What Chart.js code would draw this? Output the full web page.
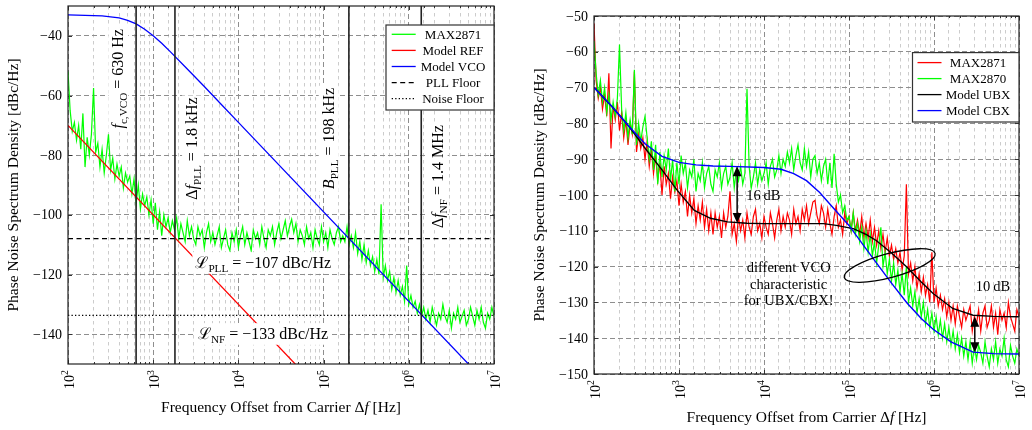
<!DOCTYPE html>
<html>
<head>
<meta charset="utf-8">
<script src="https://cdn.jsdelivr.net/npm/chart.js@4.4.1/dist/chart.umd.min.js"></script>
<style>
  html, body { margin: 0; padding: 0; background: #fff; }
  #wrap { position: relative; width: 1032px; height: 430px; overflow: hidden; }
  canvas { position: absolute; top: 0; }
</style>
</head>
<body>
<div id="wrap">
  <canvas id="left" width="516" height="430" style="left:0"></canvas>
  <canvas id="right" width="516" height="430" style="left:516px"></canvas>
</div>
<script>
/* ---------------- data ---------------- */
// measured traces are sampled 40 points per decade, 10^2 ... 10^7
const TRACE_START_EXP = 2;
const TRACE_STEP_EXP = 0.025;

const xDecades = [2, 3, 4, 5, 6, 7];
const leftYTicks = [-140, -120, -100, -80, -60, -40];
const rightYTicks = [-150, -140, -130, -120, -110, -100, -90, -80, -70, -60, -50];

const leftSeriesNames = ["MAX2871", "Model REF", "Model VCO", "PLL Floor", "Noise Floor"];
const rightSeriesNames = ["MAX2871", "MAX2870", "Model UBX", "Model CBX"];

// left panel
const leftMax2871 = [
  -52,-65,-72,-69,-75,-70,-78,-66,-84,-74,
  -80,-73,-57.5,-79,-76,-84,-78,-86,-80,-73,
  -85,-81,-88,-83,-87,-84,-91,-86,-89,-87,
  -93,-88,-96,-90,-98,-93,-97,-94,-100,-95,
  -103,-96,-105,-99,-107,-100,-104,-101,-106,-102,
  -105,-101,-108,-103,-106,-109,-102,-107,-104,-108,
  -110,-104,-107,-105,-111,-106,-103,-109,-106,-110,
  -107,-104,-111,-108,-105,-110,-112,-106,-109,-105,
  -111,-107,-104,-110,-106,-109,-112,-105,-108,-106,
  -110,-104,-108,-111,-105,-107,-104,-110,-106,-103,
  -108,-105,-102,-107,-104,-101.5,-106,-103,-109,-105,
  -107,-110,-104,-108,-106,-111,-105,-108,-110,-104,
  -109,-106,-111,-105,-108,-110,-106,-104,-109,-107,
  -109,-104,-110,-107,-111,-106,-113,-109,-115,-110,
  -116,-112,-117,-114,-119,-115,-120,-96.5,-121,-117,
  -122,-119,-125,-121,-126,-122,-127,-124,-129,-117,
  -130,-127,-131,-129,-133,-130,-134,-131,-135,-132,
  -136,-131,-134,-137,-133,-135,-130,-134,-136,-132,
  -138,-133,-135,-131,-136,-134,-132,-137,-135,-131,
  -134,-137,-132,-135,-131,-136,-138,-133,-135,-131,
  -134
];
const refExp = [2, 5];
const refVal = [-70, -160];
const vcoExp = [2, 2.4, 2.6, 2.7, 2.8, 2.9, 3.0, 3.1, 3.2, 3.4, 3.6, 3.8, 4.0, 7.0];
const vcoVal = [-33, -33.3, -34, -34.8, -36, -37.8, -40, -42.5, -45.3, -51.1, -57, -63, -69, -159];
const pllFloor = -108;
const noiseFloor = -133.7;
const markerFreqs = [630, 1800, 198000, 1400000];

// right panel
const rightMax2871 = [
  -52,-68,-73,-70,-76,-72,-78,-66,-87,-75,
  -79,-74,-82,-77,-84,-79,-86,-80,-83,-65.5,
  -88,-83,-87,-84,-90,-85,-92,-87,-94,-89,
  -96,-91,-100,-92,-97,-94,-101,-95,-99,-96,
  -103,-97,-102,-99,-106,-100,-105,-101,-108,-103,
  -107,-102,-109,-104,-110,-105,-111,-105,-109,-106,
  -112,-105,-109,-106,-99,-111,-108,-113,-106,-110,
  -107,-112,-105,-109,-111,-106,-104,-110,-108,-112,
  -106,-109,-111,-105,-108,-112,-107,-104,-110,-106,
  -109,-105,-107,-111,-104,-108,-106,-110,-104,-107,
  -103,-108,-105,-102,-101.5,-106,-108,-103,-105,-109,
  -104,-108,-111,-106,-103,-109,-107,-111,-105,-108,
  -106,-110,-105,-110,-107,-111,-106,-112,-108,-112,
  -107,-113,-109,-114,-110,-115,-111,-116,-112,-117,
  -114,-118,-115,-119,-116,-121,-117,-97,-122,-119,
  -124,-120,-126,-122,-127,-123,-128,-125,-130,-116,
  -130,-126,-131,-128,-132,-129,-134,-130,-135,-131,
  -136,-131,-134,-137,-132,-135,-133,-131,-138,-134,
  -136,-132,-138,-133,-131,-137,-135,-131,-137,-133,
  -139,-132,-135,-133,-137,-130,-134,-136,-138,-132,
  -134
];
const rightMax2870 = [
  -57,-66,-72,-68,-74,-70,-77,-72,-79,-74,
  -78,-73,-58,-76,-82,-77,-84,-79,-83,-65,
  -86,-80,-85,-81,-78,-84,-90,-85,-93,-86,
  -97,-88,-95,-89,-93,-87,-96,-90,-99,-91,
  -97,-89,-94,-91,-98,-93,-95,-90,-99,-94,
  -96,-91,-98,-94,-92,-97,-99,-93,-95,-91,
  -98,-94,-92,-97,-95,-91,-98,-93,-96,-92,
  -97,-94,-70.3,-92,-98,-95,-91,-97,-93,-96,
  -94,-91,-97,-92,-90,-95,-93,-89,-94,-90,
  -92,-88,-91,-87,-93,-89,-86,-91,-93,-87,
  -92,-88,-95,-90,-89,-94,-91,-96,-92,-90,
  -97,-91,-98,-88.5,-97,-102,-100,-105,-103,-107,
  -106,-110,-105,-111,-108,-113,-109,-115,-110,-116,
  -111,-117,-113,-119,-114,-109,-120,-116,-122,-118,
  -124,-119,-125,-121,-127,-122,-128,-120,-130,-126,
  -131,-127,-133,-129,-134,-130,-136,-132,-137,-133,
  -138,-134,-139,-135,-140,-136,-141,-137,-142,-138,
  -143,-139,-144,-140,-145,-141,-146,-141,-147,-142,
  -146,-142,-144,-147,-141,-145,-148,-143,-146,-141,
  -147,-143,-145,-140,-146,-148,-142,-145,-147,-143,
  -145
];
const ubxExp = [2.0, 2.2, 2.4, 2.59, 2.8, 2.98, 3.18, 3.37, 3.57, 3.8, 4.0, 4.7, 4.85, 5.05, 5.2, 5.32, 5.5, 5.68, 5.85, 5.99, 6.22, 6.46, 6.7, 7.0];
const ubxVal = [-70, -75, -80.5, -86.6, -93, -98.7, -104.3, -106.5, -107.5, -107.9, -108, -108, -108.5, -109.4, -111, -112.7, -116.2, -120.1, -124.3, -127.5, -131.7, -133.6, -133.9, -134];
const cbxExp = [2.0, 2.2, 2.4, 2.6, 2.8, 3.0, 3.2, 3.4, 3.6, 4.0, 4.2, 4.35, 4.5, 4.655, 4.8, 5.0, 5.16, 5.32, 5.5, 5.68, 5.85, 5.99, 6.2, 6.46, 6.7, 7.0];
const cbxVal = [-70, -75, -80.5, -85.7, -89.2, -90.9, -91.6, -91.9, -92, -92.3, -92.8, -94, -96, -99.3, -103.2, -108.5, -113.7, -118.9, -124.6, -130.1, -134.5, -137.5, -141, -143.9, -144.3, -144.4];
// double arrows marking the gaps [frequency, upper dB, lower dB]
const gapArrows = [[4830, -92, -107.8], [3.02e6, -134, -143.9]];

/* ---------------- helpers ---------------- */
const SERIF = '"Liberation Serif", "DejaVu Serif", serif';

function partFont(kind, size){
  const s = (kind === "b" || kind === "p") ? size * 0.7 : size;
  return (kind === "i" ? "italic " : "") + s.toFixed(1) + "px " + SERIF;
}
function runsWidth(ctx, parts, size){
  let w = 0;
  for(const [t, k] of parts){ ctx.font = partFont(k, size); w += ctx.measureText(t).width; }
  return w;
}
// draws text made of runs: n normal, i italic, b subscript, p superscript
function drawRuns(ctx, parts, size, x, cy, align = "center"){
  const w = runsWidth(ctx, parts, size);
  let cx = align === "center" ? x - w / 2 : (align === "right" ? x - w : x);
  const base = cy + size * 0.33;
  ctx.textAlign = "left";
  ctx.textBaseline = "alphabetic";
  for(const [t, k] of parts){
    ctx.font = partFont(k, size);
    const dy = k === "b" ? size * 0.25 : (k === "p" ? -size * 0.38 : 0);
    ctx.fillText(t, cx, base + dy);
    cx += ctx.measureText(t).width;
  }
  return w;
}
function toPts(xs, ys){ return xs.map((x, i) => ({ x, y: ys[i] })); }
function tracePts(vals){
  return vals.map((v, i) => ({ x: Math.pow(10, TRACE_START_EXP + TRACE_STEP_EXP * i), y: v }));
}
function expPts(exps, vals){ return exps.map((e, i) => ({ x: Math.pow(10, e), y: vals[i] })); }
function isDecade(v){
  if(!v) return false;
  const m = v / Math.pow(10, Math.floor(Math.log10(v) + 1e-9));
  return Math.abs(m - 1) < 1e-6;
}
function minus(v){ return v < 0 ? "\u2212" + Math.abs(v) : String(v); }

function logX(xHeight){
  return {
    type: "logarithmic", min: 1e2, max: 1e7,
    ticks: { display: false },
    grid: { drawTicks: false, lineWidth: 1,
      color: c => isDecade(c.tick && c.tick.value) ? "#8e8e8e" : "#cccccc" },
    border: { display: false, dash: c => isDecade(c.tick && c.tick.value) ? [5, 3] : [3.5, 3.5] },
    afterFit: s => { s.height = xHeight; }
  };
}
function linY(min, max, ticks, yWidth){
  return {
    type: "linear", min, max,
    afterBuildTicks: s => { s.ticks = ticks.map(v => ({ value: v })); },
    ticks: { display: false },
    grid: { drawTicks: false, lineWidth: 1, color: "#8e8e8e" },
    border: { display: false, dash: [5, 3] },
    afterFit: s => { s.width = yWidth; }
  };
}

function drawAxes(chart, yTicks){
  const { ctx, chartArea: a, scales: { x, y } } = chart;
  ctx.save();
  ctx.fillStyle = "#000";
  // x tick labels 10^n, rotated
  for(const e of xDecades){
    const px = x.getPixelForValue(Math.pow(10, e));
    ctx.save();
    ctx.translate(px + 1, a.bottom + 6);
    ctx.rotate(-Math.PI / 2);
    drawRuns(ctx, [["10", "n"], [String(e), "p"]], 14, 0, 0, "right");
    ctx.restore();
  }
  for(const v of yTicks){
    drawRuns(ctx, [[minus(v), "n"]], 14, a.left - 6, y.getPixelForValue(v), "right");
  }
  drawRuns(ctx, [["Frequency Offset from Carrier \u0394", "n"], ["f", "i"], [" [Hz]", "n"]], 15.5,
    (a.left + a.right) / 2, a.bottom + 43);
  ctx.save();
  ctx.translate(a.left - 55, (a.top + a.bottom) / 2);
  ctx.rotate(-Math.PI / 2);
  drawRuns(ctx, [["Phase Noise Spectrum Density [dBc/Hz]", "n"]], 15.5, 0, 0);
  ctx.restore();
  ctx.restore();
}

function drawTickMarks(chart, yTicks){
  const { ctx, chartArea: a, scales: { x, y } } = chart;
  ctx.save();
  ctx.strokeStyle = "#333";
  ctx.lineWidth = 1;
  ctx.beginPath();
  for(const t of x.ticks){
    const px = Math.round(x.getPixelForValue(t.value)) + 0.5;
    const len = isDecade(t.value) ? 4 : 2;
    ctx.moveTo(px, a.bottom); ctx.lineTo(px, a.bottom - len);
    ctx.moveTo(px, a.top); ctx.lineTo(px, a.top + len);
  }
  for(const v of yTicks){
    const py = Math.round(y.getPixelForValue(v)) + 0.5;
    ctx.moveTo(a.left, py); ctx.lineTo(a.left + 4, py);
    ctx.moveTo(a.right, py); ctx.lineTo(a.right - 4, py);
  }
  ctx.stroke();
  ctx.restore();
}

function drawFrame(chart){
  const { ctx, chartArea: a } = chart;
  ctx.save();
  ctx.strokeStyle = "#222";
  ctx.lineWidth = 1.2;
  ctx.strokeRect(a.left, a.top, a.right - a.left, a.bottom - a.top);
  ctx.restore();
}

function drawLegend(chart, box){
  const { ctx, chartArea: a } = chart;
  const items = chart.data.datasets.filter(d => d.label);
  const left = a.right - box.w, top = a.top + box.top;
  ctx.save();
  ctx.fillStyle = "#fff";
  ctx.fillRect(left, top, box.w, box.h);
  ctx.strokeStyle = "#333";
  ctx.lineWidth = 1.2;
  ctx.strokeRect(left, top, box.w, box.h);
  items.forEach((d, i) => {
    const yy = top + box.row0 + i * box.step;
    ctx.strokeStyle = d.borderColor;
    ctx.lineWidth = 1.3;
    ctx.setLineDash(d.borderDash || []);
    ctx.beginPath();
    ctx.moveTo(left + box.l0, yy);
    ctx.lineTo(left + box.l0 + 24, yy);
    ctx.stroke();
    ctx.setLineDash([]);
    ctx.fillStyle = "#000";
    drawRuns(ctx, [[d.label, "n"]], 13, left + box.tx, yy);
  });
  ctx.restore();
}

function vLabel(ctx, px, py, parts, size){
  ctx.save();
  ctx.translate(px, py);
  ctx.rotate(-Math.PI / 2);
  const w = runsWidth(ctx, parts, size);
  ctx.fillStyle = "#fff";
  ctx.fillRect(-w / 2 - 2, -size * 0.6, w + 4, size * 1.25);
  ctx.fillStyle = "#000";
  drawRuns(ctx, parts, size, 0, 0);
  ctx.restore();
}
function boxLabel(ctx, px, py, parts, size){
  const w = runsWidth(ctx, parts, size);
  ctx.save();
  ctx.fillStyle = "#fff";
  ctx.fillRect(px - w / 2 - 3, py - size * 0.65, w + 6, size * 1.35);
  ctx.fillStyle = "#000";
  drawRuns(ctx, parts, size, px, py);
  ctx.restore();
}
function doubleArrow(ctx, px, y0, y1){
  const head = 10, hw = 4.5;
  ctx.save();
  ctx.strokeStyle = "#000";
  ctx.fillStyle = "#000";
  ctx.lineWidth = 1.5;
  ctx.beginPath();
  ctx.moveTo(px, y0 + head - 1); ctx.lineTo(px, y1 - head + 1);
  ctx.stroke();
  ctx.beginPath();
  ctx.moveTo(px, y0); ctx.lineTo(px - hw, y0 + head); ctx.lineTo(px + hw, y0 + head); ctx.closePath();
  ctx.moveTo(px, y1); ctx.lineTo(px - hw, y1 - head); ctx.lineTo(px + hw, y1 - head); ctx.closePath();
  ctx.fill();
  ctx.restore();
}

/* ---------------- left panel ---------------- */
const leftDatasets = [
  { label: leftSeriesNames[0], data: tracePts(leftMax2871), borderColor: "#00ff00", borderWidth: 1.2, order: 6 },
  { label: leftSeriesNames[1], data: expPts(refExp, refVal), borderColor: "#ff0000", borderWidth: 1.3, order: 5 },
  { label: leftSeriesNames[2], data: expPts(vcoExp, vcoVal), borderColor: "#0000ff", borderWidth: 1.3, order: 4 },
  { label: leftSeriesNames[3], data: toPts([100, 1e7], [pllFloor, pllFloor]), borderColor: "#000", borderWidth: 1.3, borderDash: [5, 3.5], order: 3 },
  { label: leftSeriesNames[4], data: toPts([100, 1e7], [noiseFloor, noiseFloor]), borderColor: "#000", borderWidth: 1.3, borderDash: [1.3, 2.2], order: 2 },
  ...markerFreqs.map(f => ({ label: "", data: toPts([f, f], [-150, -30]), borderColor: "#222", borderWidth: 1.6, order: 1 }))
];

const leftDecor = {
  id: "leftDecor",
  beforeDatasetsDraw(chart){ drawTickMarks(chart, leftYTicks); },
  afterDatasetsDraw(chart){
    const { ctx, scales: { x, y } } = chart;
    drawFrame(chart);
    vLabel(ctx, x.getPixelForValue(386), y.getPixelForValue(-54.4), [["f", "i"], ["c,VCO", "b"], [" = 630 Hz", "n"]], 16);
    vLabel(ctx, x.getPixelForValue(2830), y.getPixelForValue(-77.8), [["\u0394", "n"], ["f", "i"], ["PLL", "b"], [" = 1.8 kHz", "n"]], 16);
    vLabel(ctx, x.getPixelForValue(113500), y.getPixelForValue(-74.4), [["B", "i"], ["PLL", "b"], [" = 198 kHz", "n"]], 16);
    vLabel(ctx, x.getPixelForValue(2.16e6), y.getPixelForValue(-87.2), [["\u0394", "n"], ["f", "i"], ["NF", "b"], [" = 1.4 MHz", "n"]], 16);
    boxLabel(ctx, x.getPixelForValue(19600), y.getPixelForValue(-116), [["\u2112", "n"], ["PLL", "b"], [" = \u2212107 dBc/Hz", "n"]], 16);
    boxLabel(ctx, x.getPixelForValue(19500), y.getPixelForValue(-139.8), [["\u2112", "n"], ["NF", "b"], [" = \u2212133 dBc/Hz", "n"]], 16);
    drawLegend(chart, { w: 108, h: 85, top: 19, row0: 9.3, step: 16.1, l0: 5.7, tx: 67 });
  },
  afterDraw(chart){ drawAxes(chart, leftYTicks); }
};

new Chart(document.getElementById("left"), {
  type: "line",
  data: { datasets: leftDatasets },
  options: {
    responsive: false, animation: false, events: [], devicePixelRatio: 1,
    layout: { padding: { left: 0, top: 6, right: 22, bottom: 0 } },
    plugins: { legend: { display: false }, tooltip: { enabled: false } },
    elements: { point: { radius: 0 }, line: { tension: 0, fill: false } },
    scales: { x: logX(66), y: linY(-150, -30, leftYTicks, 68) }
  },
  plugins: [leftDecor]
});

/* ---------------- right panel ---------------- */
const rightDatasets = [
  { label: rightSeriesNames[0], data: tracePts(rightMax2871), borderColor: "#ff0000", borderWidth: 1.2, order: 4 },
  { label: rightSeriesNames[1], data: tracePts(rightMax2870), borderColor: "#00ff00", borderWidth: 1.2, order: 3 },
  { label: rightSeriesNames[2], data: expPts(ubxExp, ubxVal), borderColor: "#000000", borderWidth: 1.4, order: 2 },
  { label: rightSeriesNames[3], data: expPts(cbxExp, cbxVal), borderColor: "#0000ff", borderWidth: 1.4, order: 1 }
];

const rightDecor = {
  id: "rightDecor",
  beforeDatasetsDraw(chart){ drawTickMarks(chart, rightYTicks); },
  afterDatasetsDraw(chart){
    const { ctx, scales: { x, y } } = chart;
    drawFrame(chart);
    for(const [f, top, bottom] of gapArrows){
      doubleArrow(ctx, x.getPixelForValue(f), y.getPixelForValue(top), y.getPixelForValue(bottom));
    }
    ctx.save();
    ctx.fillStyle = "#000";
    const a0 = x.getPixelForValue(gapArrows[0][0]);
    drawRuns(ctx, [["16\u2009dB", "n"]], 14.5, a0 + 9, y.getPixelForValue(-100.1), "left");
    const a1 = x.getPixelForValue(gapArrows[1][0]);
    drawRuns(ctx, [["10\u2009dB", "n"]], 14.5, a1 + 1, y.getPixelForValue(-125.5), "left");
    const nx = x.getPixelForValue(19500);
    drawRuns(ctx, [["different VCO", "n"]], 14.5, nx, y.getPixelForValue(-120.2));
    drawRuns(ctx, [["characteristic", "n"]], 14.5, nx, y.getPixelForValue(-124.9));
    drawRuns(ctx, [["for UBX/CBX!", "n"]], 14.5, nx, y.getPixelForValue(-129.4));
    ctx.strokeStyle = "#000";
    ctx.lineWidth = 1.3;
    ctx.beginPath();
    ctx.ellipse(x.getPixelForValue(301000), y.getPixelForValue(-119.7), 47, 12, -15 * Math.PI / 180, 0, Math.PI * 2);
    ctx.stroke();
    ctx.restore();
    drawLegend(chart, { w: 106.5, h: 69.4, top: 36.6, row0: 10, step: 16, l0: 5, tx: 65.5 });
  },
  afterDraw(chart){ drawAxes(chart, rightYTicks); }
};

new Chart(document.getElementById("right"), {
  type: "line",
  data: { datasets: rightDatasets },
  options: {
    responsive: false, animation: false, events: [], devicePixelRatio: 1,
    layout: { padding: { left: 0, top: 16, right: 13, bottom: 0 } },
    plugins: { legend: { display: false }, tooltip: { enabled: false } },
    elements: { point: { radius: 0 }, line: { tension: 0, fill: false } },
    scales: { x: logX(56), y: linY(-150, -50, rightYTicks, 78) }
  },
  plugins: [rightDecor]
});
</script>
</body>
</html>
